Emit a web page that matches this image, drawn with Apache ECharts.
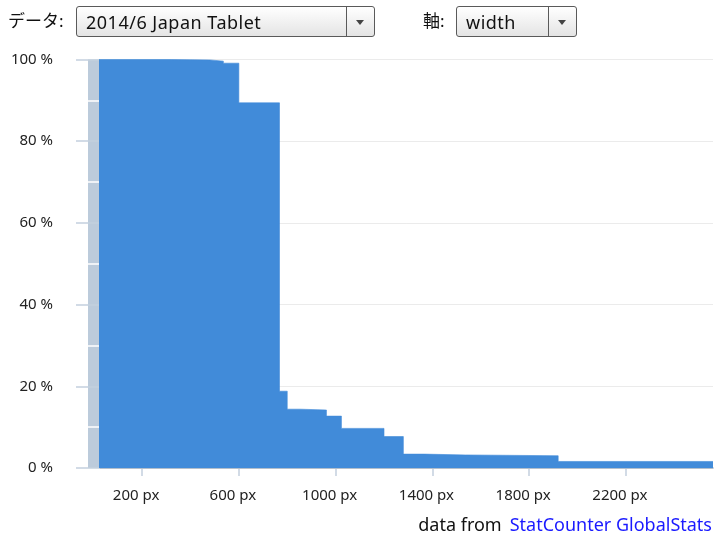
<!DOCTYPE html>
<html>
<head>
<meta charset="utf-8">
<script src="https://cdn.jsdelivr.net/npm/echarts@6/dist/echarts.min.js"></script>
<style>
    html, body { margin: 0; padding: 0; background: #fff; }
    body { width: 720px; height: 540px; position: relative; overflow: hidden;
        font-family: 'Noto Sans', 'Noto Sans CJK JP', sans-serif; color: #111; }
    #chart { position: absolute; left: 0; top: 0; width: 720px; height: 540px; }
    .label { position: absolute; top: 8px; font-size: 17px; line-height: 26px; }
    .select { position: absolute; top: 6px; height: 29px; border: 1px solid #5a5a5a; border-radius: 3px;
        background: linear-gradient(#ffffff, #e4e4e4); box-sizing: content-box; }
    .select .text { position: absolute; left: 9px; top: 1px; font-size: 18px; line-height: 28px; letter-spacing: 0.5px; }
    .select .btn { position: absolute; right: 0; top: 0; width: 27px; height: 29px; border-left: 1px solid #5a5a5a; }
    .select .btn:after { content: ''; position: absolute; left: 9px; top: 13px; border-left: 4.5px solid transparent;
        border-right: 4.5px solid transparent; border-top: 5px solid #444; }
    #footer { position: absolute; right: 8px; top: 512px; font-size: 18px; line-height: 24px; }
    #footer a { color: #1a1aff; text-decoration: none; margin-left: 8px; }
</style>
</head>
<body>
<div id="chart"></div>
<div class="label" style="left:8px">データ:</div>
<div class="select" style="left:76px;width:297px"><span class="text">2014/6 Japan Tablet</span><span class="btn"></span></div>
<div class="label" style="left:423px">軸:</div>
<div class="select" style="left:456px;width:119px"><span class="text">width</span><span class="btn"></span></div>
<div id="footer">data from<a href="#">StatCounter GlobalStats</a></div>
<script>
// screen width (px) where each step starts, and share of tablets at least that wide (%)
const widths = [0, 320, 480, 536, 600, 768, 800, 854, 962, 1024, 1200, 1280, 1366, 1536, 1920, 2560];
const shares = [100, 99.9, 99.6, 99.1, 89.4, 18.8, 14.4, 14.2, 12.7, 9.7, 7.7, 3.4, 3.2, 3.0, 1.6, 1.6];
const xTicks = [200, 600, 1000, 1400, 1800, 2200];

const axisColor = '#c3d0de';
const barColor = '#bccbdb';
const fillColor = '#418bd9';
const gridTop = 59.5, gridBottom = 72;

const chart = echarts.init(document.getElementById('chart'));

const points = widths.map((w, i) => [w, shares[i]]);

chart.setOption({
    animation: false,
    textStyle: { fontFamily: "'Noto Sans', 'Noto Sans CJK JP', sans-serif" },
    grid: [
        // main plot
        { left: 100, right: 7, top: gridTop, bottom: gridBottom },
        // the thick grey y axis bar
        { left: 88, width: 12, top: gridTop, bottom: gridBottom, show: true,
          backgroundColor: barColor, borderWidth: 0 }
    ],
    xAxis: [
        {
            type: 'value',
            min: 26,
            max: 2560,
            axisLine: { lineStyle: { color: axisColor, width: 2 } },
            axisTick: {
                customValues: xTicks,
                length: 8,
                lineStyle: { color: axisColor, width: 1.5 }
            },
            axisLabel: {
                customValues: xTicks,
                formatter: v => v + ' px',
                color: '#222',
                fontSize: 15,
                margin: 20,
                padding: [0, 12, 0, 0]
            },
            splitLine: { show: false }
        },
        { type: 'value', gridIndex: 1, min: 0, max: 1, show: false }
    ],
    yAxis: [
        {
            type: 'value',
            min: 0,
            max: 100,
            interval: 20,
            z: 3,
            axisLine: { show: false },
            axisTick: { show: false },
            axisLabel: { show: false },
            splitLine: { lineStyle: { color: 'rgba(0,0,0,0.08)', width: 1 } }
        },
        {
            type: 'value',
            gridIndex: 1,
            position: 'left',
            min: 0,
            max: 100,
            interval: 20,
            axisLine: { show: false },
            axisTick: { show: true, length: 12, lineStyle: { color: axisColor, width: 1.5 } },
            axisLabel: { formatter: v => v + ' %', color: '#222', fontSize: 15, margin: 35 },
            splitLine: { show: true, lineStyle: { color: axisColor, width: 1.5 } },
            minorTick: { show: false, splitNumber: 2 },
            minorSplitLine: { show: true, lineStyle: { color: '#ffffff', width: 1.5 } }
        }
    ],
    series: [
        {
            type: 'line',
            step: 'end',
            showSymbol: false,
            data: points,
            lineStyle: { color: fillColor, width: 1, opacity: 0.6 },
            areaStyle: { color: fillColor, opacity: 1 }
        }
    ]
});
</script>
</body>
</html>
